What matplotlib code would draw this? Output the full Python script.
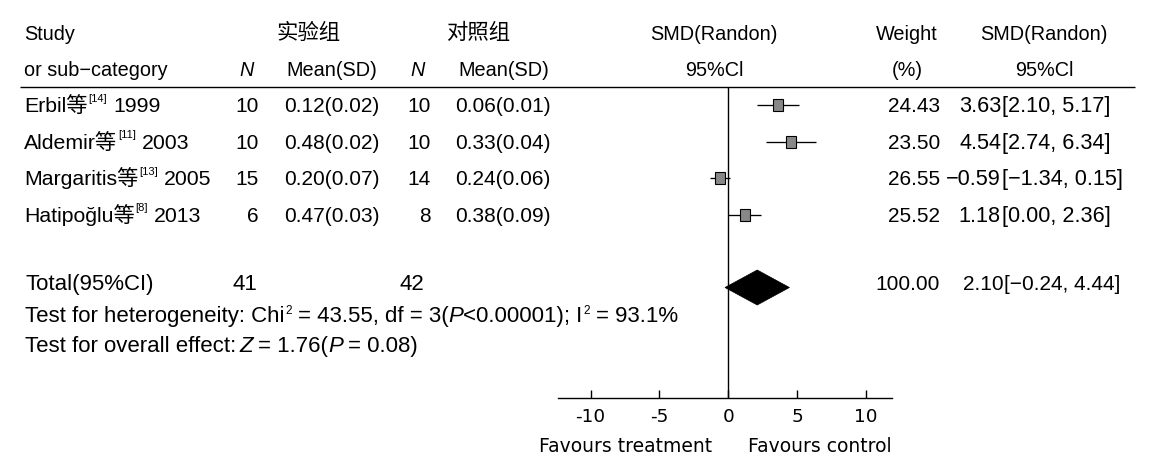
import matplotlib
matplotlib.use("Agg")
import matplotlib.pyplot as plt
from matplotlib.patches import Rectangle, Polygon

# ---------------- data ----------------
studies = ["Erbil等", "Aldemir等", "Margaritis等", "Hatipoğlu等"]
refs = ["[14]", "[11]", "[13]", "[8]"]
years = ["1999", "2003", "2005", "2013"]
n_exp = [10, 10, 15, 6]
mean_exp = [0.12, 0.48, 0.20, 0.47]
sd_exp = [0.02, 0.02, 0.07, 0.03]
n_ctl = [10, 10, 14, 8]
mean_ctl = [0.06, 0.33, 0.24, 0.38]
sd_ctl = [0.01, 0.04, 0.06, 0.09]
weight = [24.43, 23.50, 26.55, 25.52]
smd = [3.63, 4.54, -0.59, 1.18]
ci_lo = [2.10, 2.74, -1.34, 0.00]
ci_hi = [5.17, 6.34, 0.15, 2.36]
total_n_exp = 41
total_n_ctl = 42
total_weight = 100.00
total_smd = 2.10
total_lo = -0.24
total_hi = 4.44
x_ticks = [-10, -5, 0, 5, 10]
x_tick_labels = ["-10", "-5", "0", "5", "10"]

# ---------------- layout ----------------
W, H = 1153, 467
fig = plt.figure(figsize=(W / 100, H / 100), dpi=100)
ax = fig.add_axes([0, 0, 1, 1])
ax.set_xlim(0, W)
ax.set_ylim(H, 0)
ax.axis("off")

BODY = ["Liberation Sans", "Noto Sans CJK SC", "DejaVu Sans"]
CJK = ["Noto Sans CJK SC", "DejaVu Sans"]
FS = 15.0
HFS = 14.3


def fmt(v):
    return f"{v:.2f}".replace("-", "\u2212")


def chain(x, y, pieces):
    first = pieces[0]
    prev = ax.text(x, y, first[0], ha="left", va="baseline", **first[1])
    for txt, kw, gap, rise in pieces[1:]:
        prev = ax.annotate(txt, xy=(1, y), xycoords=(prev, "data"),
                           xytext=(gap * 0.72, rise * 0.72), textcoords="offset points",
                           ha="left", va="baseline", **kw)


body = dict(family=BODY, fontsize=FS)
cifont = dict(family=BODY, fontsize=15.6)
sup = dict(family=BODY, fontsize=8.0)
head = dict(family=BODY, fontsize=HFS)
headi = dict(family=BODY, fontsize=HFS, style="italic")
nar = dict(family=BODY, fontsize=16.0)
nari = dict(family=BODY, fontsize=16.0, style="italic")
narsup = dict(family=BODY, fontsize=8.5)

# header
h1, h2 = 40, 76
ax.text(24, h1, "Study", ha="left", va="baseline", **head)
ax.text(24, h2, "or sub\u2212category", ha="left", va="baseline", **head)
ax.text(309, h1 - 1, "实验组", ha="center", va="baseline", family=CJK, fontsize=15.4)
ax.text(478, h1 - 1, "对照组", ha="center", va="baseline", family=CJK, fontsize=15.4)
ax.text(247, h2, "N", ha="center", va="baseline", **headi)
ax.text(418, h2, "N", ha="center", va="baseline", **headi)
ax.text(332, h2, "Mean(SD)", ha="center", va="baseline", **head)
ax.text(504, h2, "Mean(SD)", ha="center", va="baseline", **head)
ax.text(714, h1, "SMD(Randon)", ha="center", va="baseline", **head)
ax.text(714, h2, "95%Cl", ha="center", va="baseline", **head)
ax.text(907, h1, "Weight", ha="center", va="baseline", **head)
ax.text(907, h2, "(%)", ha="center", va="baseline", **head)
ax.text(1044, h1, "SMD(Randon)", ha="center", va="baseline", **head)
ax.text(1044, h2, "95%Cl", ha="center", va="baseline", **head)
ax.plot([20, 1135], [86.5, 86.5], color="black", lw=1.0, solid_capstyle="butt")

# study rows
row_base0, row_step = 112.3, 36.5
for i in range(len(studies)):
    yb = row_base0 + row_step * i
    chain(24, yb, [(studies[i], dict(family=BODY, fontsize=15.3), 0, 0),
                   (refs[i], sup, 0.8, 10.5),
                   (years[i], dict(family=BODY, fontsize=15.3), 6.0, 0)])
    ax.text(259, yb, f"{n_exp[i]}", ha="right", va="baseline", **body)
    ax.text(332, yb, f"{mean_exp[i]:.2f}({sd_exp[i]:.2f})", ha="center", va="baseline", **body)
    ax.text(431, yb, f"{n_ctl[i]}", ha="right", va="baseline", **body)
    ax.text(503, yb, f"{mean_ctl[i]:.2f}({sd_ctl[i]:.2f})", ha="center", va="baseline", **body)
    ax.text(940, yb, f"{weight[i]:.2f}", ha="right", va="baseline", **body)
    ax.text(1001, yb, fmt(smd[i]), ha="right", va="baseline", **cifont)
    ax.text(1001.5, yb, f"[{fmt(ci_lo[i])}, {fmt(ci_hi[i])}]", ha="left", va="baseline", **cifont)

# total row
yt = 290
ax.text(25, yt, "Total(95%CI)", ha="left", va="baseline", **nar)
ax.text(257, yt, f"{total_n_exp}", ha="right", va="baseline", **nar)
ax.text(424, yt, f"{total_n_ctl}", ha="right", va="baseline", **nar)
ax.text(940, yt, f"{total_weight:.2f}", ha="right", va="baseline", **body)
ax.text(1004, yt, fmt(total_smd), ha="right", va="baseline", **body)
ax.text(1004.5, yt, f"[{fmt(total_lo)}, {fmt(total_hi)}]", ha="left", va="baseline", **body)

chain(25, 322.3, [("Test for heterogeneity: Chi", nar, 0, 0),
                  ("2", narsup, 0.8, 8.5),
                  ("= 43.55, df = 3(", nar, 6, 0),
                  ("P", nari, 0, 0),
                  ("<0.00001); I", nar, 0, 0),
                  ("2", narsup, 0.8, 8.5),
                  ("= 93.1%", nar, 6, 0)])
chain(25, 352.3, [("Test for overall effect:", nar, 0, 0),
                  ("Z", nari, 3, 0),
                  ("= 1.76(", nar, 5, 0),
                  ("P", nari, 0, 0),
                  ("= 0.08)", nar, 5, 0)])

# ---------------- forest plot ----------------
px0, s = 728.3, 13.77
left_px, right_px, top_px, bot_px = 558, 892, 86.5, 398
rowy0 = 105.0
fax = fig.add_axes([left_px / W, (H - bot_px) / H, (right_px - left_px) / W, (bot_px - top_px) / H])
fax.set_xlim((left_px - px0) / s, (right_px - px0) / s)
fax.set_ylim((bot_px - rowy0) / row_step, (top_px - rowy0) / row_step)
fax.patch.set_alpha(0)
for sp in ["top", "left", "right"]:
    fax.spines[sp].set_visible(False)
fax.spines["bottom"].set_linewidth(1.0)
fax.set_yticks([])
fax.set_xticks(x_ticks)
fax.set_xticklabels(x_tick_labels, family="DejaVu Sans", fontsize=13.3)
fax.tick_params(axis="x", direction="in", length=5.5, width=1.0, pad=7.0)
fax.axvline(0, color="black", lw=1.0)

sq_w = 10 / s
sq_h = 12 / row_step
for i in range(len(studies)):
    fax.plot([ci_lo[i], ci_hi[i]], [i, i], color="black", lw=0.95, solid_capstyle="butt")
    fax.add_patch(Rectangle((smd[i] - sq_w / 2, i - sq_h / 2), sq_w, sq_h,
                            facecolor="#888888", edgecolor="black", lw=0.8, zorder=3))
ty = 5
dh = 17.5 / row_step
fax.add_patch(Polygon([[total_lo, ty], [total_smd, ty - dh], [total_hi, ty], [total_smd, ty + dh]],
                      closed=True, facecolor="black", edgecolor="black", lw=0.5, zorder=3))

ax.text(712, 451.5, "Favours treatment", ha="right", va="baseline", family="DejaVu Sans", fontsize=13.5)
ax.text(748, 451.5, "Favours control", ha="left", va="baseline", family="DejaVu Sans", fontsize=13.5)

fig.savefig("out.png", dpi=100)
